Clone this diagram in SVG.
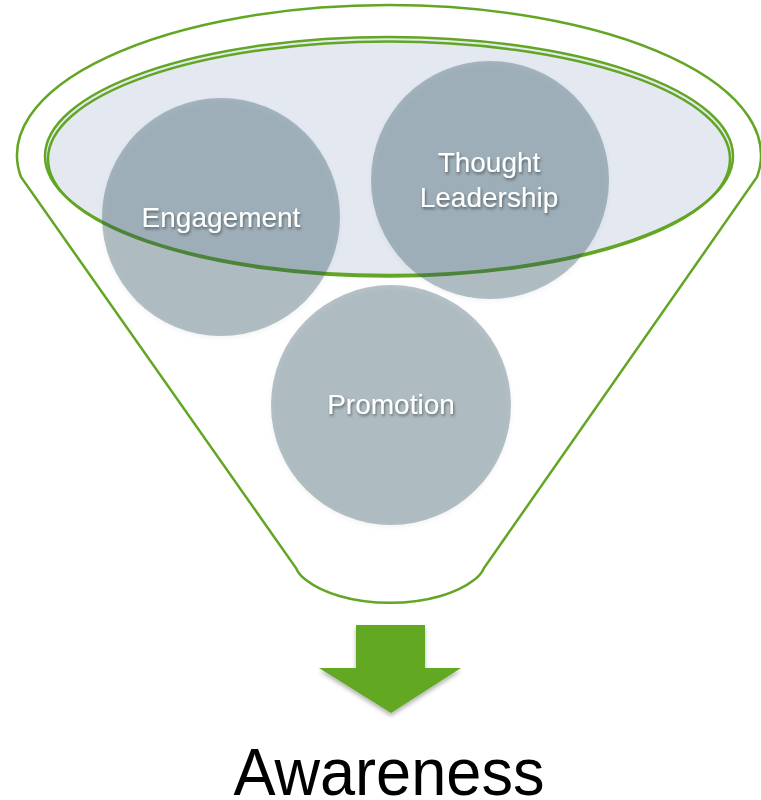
<svg xmlns="http://www.w3.org/2000/svg" width="761" height="800" viewBox="0 0 761 800">
<defs>
<style>
.rim{fill:none;stroke:#62A624;stroke-width:2.5}
.bubble{fill:#285062;fill-opacity:0.34}
.lbl{font-family:"Liberation Sans",Arial,sans-serif;font-size:28px;fill:#FFFFFF;text-anchor:middle}
</style>
<filter id="tsh" x="-20%" y="-30%" width="140%" height="170%">
<feDropShadow dx="1" dy="2" stdDeviation="1.5" flood-color="#000" flood-opacity="0.45"/>
</filter>
<filter id="csh" x="-10%" y="-10%" width="120%" height="125%">
<feDropShadow dx="0" dy="2" stdDeviation="2.5" flood-color="#000" flood-opacity="0.15"/>
</filter>
<filter id="ash" x="-10%" y="-10%" width="120%" height="130%">
<feDropShadow dx="0" dy="3" stdDeviation="2" flood-color="#000" flood-opacity="0.3"/>
</filter>
</defs>
<rect width="761" height="800" fill="#FFFFFF"/>
<g id="funnel">
<path class="rim" d="M21,177 A372 150 0 1 1 757,177 L484,568 Q481,575 474,580 A100 50 0 0 1 306,580 Q299,575 296,568 Z" fill="#FFFFFF"/>
<ellipse cx="389" cy="156" rx="344" ry="119" fill="#E4E9F1"/>
<ellipse class="rim" cx="389" cy="156" rx="344" ry="119"/>
<ellipse class="rim" cx="389" cy="159" rx="341" ry="117.5"/>
</g>
<g id="engagement">
<circle class="bubble" cx="221" cy="217" r="119" filter="url(#csh)"/>
<text class="lbl" x="221" y="227" filter="url(#tsh)">Engagement</text>
</g>
<g id="thought-leadership">
<circle class="bubble" cx="490" cy="180" r="119" filter="url(#csh)"/>
<text class="lbl" x="489" y="172" filter="url(#tsh)">Thought</text>
<text class="lbl" x="489" y="207" filter="url(#tsh)">Leadership</text>
</g>
<g id="promotion">
<circle class="bubble" cx="391" cy="405" r="120" filter="url(#csh)"/>
<text class="lbl" x="391" y="414" filter="url(#tsh)">Promotion</text>
</g>
<g id="connectors">
<path d="M356,625 L425,625 L425,668 L461,668 L391,713 L319,668 L356,668 Z" fill="#63A822" filter="url(#ash)"/>
</g>
<g id="awareness">
<text x="389" y="795" font-family="'Liberation Sans',Arial,sans-serif" font-size="66" fill="#000000" text-anchor="middle" textLength="311" lengthAdjust="spacingAndGlyphs">Awareness</text>
</g>
</svg>
